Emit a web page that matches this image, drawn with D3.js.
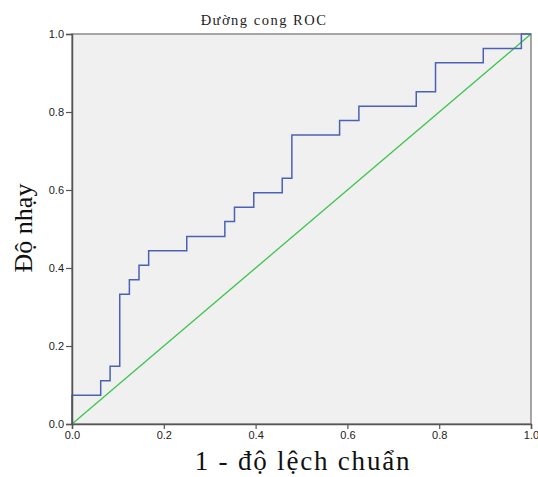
<!DOCTYPE html>
<html>
<head>
<meta charset="utf-8">
<script src="https://cdn.jsdelivr.net/npm/d3@7"></script>
<style>
  body { margin: 0; background: #fff; }
  .tick text { font-family: "Liberation Sans", Arial, sans-serif; font-size: 11px; fill: #222; }
</style>
</head>
<body>
<div id="chart"></div>
<script>
// ROC step points (1 - specificity, sensitivity)
var fpr = [0, 0, 0.0625, 0.083, 0.104, 0.125, 0.146, 0.167, 0.25, 0.333, 0.354, 0.396, 0.458, 0.479, 0.583, 0.625, 0.75, 0.792, 0.896, 0.979, 1];
var tpr = [0, 0.074, 0.111, 0.148, 0.333, 0.370, 0.407, 0.444, 0.481, 0.519, 0.556, 0.593, 0.630, 0.741, 0.778, 0.815, 0.852, 0.926, 0.963, 1, 1];
// reference line
var refX = [0, 1];
var refY = [0, 1];
var tickValues = [0, 0.2, 0.4, 0.6, 0.8, 1.0];

// set the dimensions and margins of the graph
var margin = {top: 34, right: 7, bottom: 53, left: 72},
    width = 538 - margin.left - margin.right,
    height = 477 - margin.top - margin.bottom;

var x = d3.scaleLinear().domain([0, 1]).range([0, width]);
var y = d3.scaleLinear().domain([0, 1]).range([height, 0]);

var svg = d3.select("#chart").append("svg")
    .attr("width", 538)
    .attr("height", 477);

var g = svg.append("g")
    .attr("transform", "translate(" + margin.left + "," + margin.top + ")");

// plot background + frame
g.append("rect")
    .attr("width", width)
    .attr("height", height)
    .attr("fill", "#f0f0f0")
    .attr("stroke", "#8a8a8a")
    .attr("stroke-width", 1.5);

// reference diagonal
var refData = refX.map(function(d, i) { return {x: d, y: refY[i]}; });
g.append("path")
    .datum(refData)
    .attr("fill", "none")
    .attr("stroke", "#3cc54c")
    .attr("stroke-width", 1.3)
    .attr("d", d3.line().x(function(d) { return x(d.x); }).y(function(d) { return y(d.y); }));

// ROC curve
var rocData = fpr.map(function(d, i) { return {x: d, y: tpr[i]}; });
g.append("path")
    .datum(rocData)
    .attr("fill", "none")
    .attr("stroke", "#4a62b4")
    .attr("stroke-width", 1.5)
    .attr("d", d3.line().curve(d3.curveStepAfter)
        .x(function(d) { return x(d.x); })
        .y(function(d) { return y(d.y); }));

// axes
var xAxis = g.append("g")
    .attr("transform", "translate(0," + height + ")")
    .call(d3.axisBottom(x).tickValues(tickValues).tickFormat(d3.format(".1f")).tickSize(5).tickPadding(2));
var yAxis = g.append("g")
    .call(d3.axisLeft(y).tickValues(tickValues).tickFormat(d3.format(".1f")).tickSize(6).tickPadding(2));

[xAxis, yAxis].forEach(function(a) {
    a.select(".domain").attr("stroke", "#555").attr("stroke-width", 1.5);
    a.selectAll(".tick line").attr("stroke", "#555").attr("stroke-width", 1.2);
});

// title
svg.append("text")
    .attr("x", 264)
    .attr("y", 25)
    .attr("text-anchor", "middle")
    .style("font-family", "'Liberation Serif', 'Times New Roman', serif")
    .style("font-size", "14.5px")
    .style("letter-spacing", "1.5px")
    .attr("fill", "#222")
    .text("Đường cong ROC");

// axis titles
svg.append("text")
    .attr("x", 303)
    .attr("y", 470)
    .attr("text-anchor", "middle")
    .style("font-family", "'Liberation Serif', 'Times New Roman', serif")
    .style("font-size", "27px")
    .style("letter-spacing", "1.8px")
    .attr("fill", "#111")
    .text("1 - độ lệch chuẩn");

svg.append("text")
    .attr("transform", "translate(32,228) rotate(-90)")
    .attr("text-anchor", "middle")
    .style("font-family", "'Liberation Serif', 'Times New Roman', serif")
    .style("font-size", "26px")
    .attr("fill", "#111")
    .text("Độ nhạy");
</script>
</body>
</html>
